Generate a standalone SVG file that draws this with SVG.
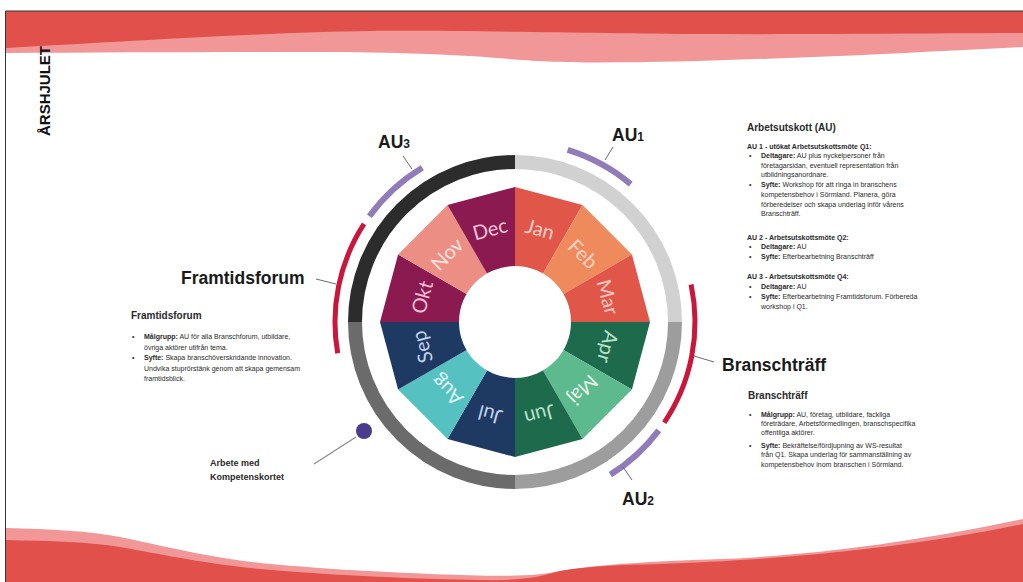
<svg xmlns="http://www.w3.org/2000/svg" width="1023" height="582" viewBox="0 0 1023 582">
<style>
.t{font-family:"Liberation Sans",Arial,sans-serif;fill:#2a2a2a}
.h{font-size:10px;font-weight:bold}
.s{font-size:7px}
.b{font-weight:bold}
.big{font-family:"Liberation Sans",Arial,sans-serif;font-size:17.5px;font-weight:bold;fill:#1a1a1a}
.m{font-family:Lato,"Open Sans",sans-serif;font-size:20px;text-anchor:middle;dominant-baseline:central}
.tick{stroke:#6a6a6a;stroke-width:1;fill:none}
.pu{stroke:#8f7cb8;stroke-width:6;fill:none}
.rd{stroke:#c8173a;stroke-width:5;fill:none}
.ring{stroke-width:14;fill:none}
</style>
<rect width="1023" height="582" fill="#ffffff"/>
<g id="background">
<path d="M6,11 H1023 V47 C940,51 870,55 800,57.5 C720,60.5 660,62.5 600,62.5 C550,62.5 520,60 490,57.5 C450,54 380,52 300,52 C200,52 100,52.5 6,53 Z" fill="#f19797"/>
<path d="M6,11 H1023 V33 C900,33.5 800,34.5 700,34 C600,33.5 450,30 370,31 C280,32 150,40 6,48 Z" fill="#e1504a"/>
<path d="M6,528 C50,529 90,531 120,537 C160,545 200,556 260,563 C330,570 420,574 480,575.5 C520,576.5 540,575 560,571 C600,564 660,561 720,559 C800,556 900,545 1023,519 V582 H6 Z" fill="#f19797"/>
<path d="M6,540 C50,541 90,542 120,547 C160,554 200,563 260,569 C340,576 420,579 480,580 C520,581 540,577 560,571 C590,566 620,565 660,564 C760,561 900,550 1023,524 V582 H6 Z" fill="#e1504a"/>
<path d="M5.5,582 V11 H1023" stroke="#333" stroke-width="1" fill="none"/>
<text transform="translate(50,136) rotate(-90)" font-family="'Liberation Sans',Arial,sans-serif" font-size="15" font-weight="bold" fill="#111">ÅRSHJULET</text>
</g>
<g id="ring">
<path class="ring" stroke="#d1d1d1" d="M515,162 A160,160 0 0 1 675,322"/>
<path class="ring" stroke="#9d9d9d" d="M675,322 A160,160 0 0 1 515,482"/>
<path class="ring" stroke="#6b6b6b" d="M515,482 A160,160 0 0 1 355,322"/>
<path class="ring" stroke="#2c2c2c" d="M355,322 A160,160 0 0 1 515,162"/>
</g>
<g id="months">
<polygon points="515,322 515,187 582.5,205.09" fill="#e0574a"/>
<polygon points="515,322 582.5,205.09 631.91,254.5" fill="#ef8a5c"/>
<polygon points="515,322 631.91,254.5 650,322" fill="#e0574a"/>
<polygon points="515,322 650,322 631.91,389.5" fill="#1e6a4c"/>
<polygon points="515,322 631.91,389.5 582.5,438.91" fill="#5db98e"/>
<polygon points="515,322 582.5,438.91 515,457" fill="#1e6a4c"/>
<polygon points="515,322 515,457 447.5,438.91" fill="#1f3a62"/>
<polygon points="515,322 447.5,438.91 398.09,389.5" fill="#56c1c1"/>
<polygon points="515,322 398.09,389.5 380,322" fill="#1f3a62"/>
<polygon points="515,322 380,322 398.09,254.5" fill="#8a1a50"/>
<polygon points="515,322 398.09,254.5 447.5,205.09" fill="#ec8e84"/>
<polygon points="515,322 447.5,205.09 515,187" fill="#8a1a50"/>
<circle cx="515" cy="322" r="56" fill="#ffffff"/>
<text class="m" x="515" y="225" transform="rotate(15 515 322)" fill="#f8cdc6">Jan</text>
<text class="m" x="515" y="225" transform="rotate(45 515 322)" fill="#f9d3c2">Feb</text>
<text class="m" x="515" y="225" transform="rotate(75 515 322)" fill="#f6c6be">Mar</text>
<text class="m" x="515" y="225" transform="rotate(105 515 322)" fill="#b9e2cb">Apr</text>
<text class="m" x="515" y="225" transform="rotate(135 515 322)" fill="#e3f4ea">Maj</text>
<text class="m" x="515" y="225" transform="rotate(165 515 322)" fill="#b9e2cb">Jun</text>
<text class="m" x="515" y="225" transform="rotate(195 515 322)" fill="#c0d2ec">Jul</text>
<text class="m" x="515" y="225" transform="rotate(225 515 322)" fill="#e2f6f6">Aug</text>
<text class="m" x="515" y="225" transform="rotate(255 515 322)" fill="#c0d2ec">Sep</text>
<text class="m" x="515" y="225" transform="rotate(285 515 322)" fill="#f1bcd4">Okt</text>
<text class="m" x="515" y="225" transform="rotate(315 515 322)" fill="#fde3de">Nov</text>
<text class="m" x="515" y="225" transform="rotate(345 515 322)" fill="#f2c3d9">Dec</text>
</g>
<g id="au1">
<path class="pu" d="M567.63,149.87 A180,180 0 0 1 630.7,184.11"/>
<text class="big" x="612" y="141" font-size="18">AU<tspan font-size="12">1</tspan></text>
</g>
<g id="au3">
<path class="pu" d="M369.38,216.2 A180,180 0 0 1 422.29,167.71"/>
<text class="big" x="378" y="148" font-size="18">AU<tspan font-size="12">3</tspan></text>
</g>
<g id="au2">
<path class="pu" d="M658.75,430.33 A180,180 0 0 1 610.38,474.65"/>
<text class="big" x="622" y="505" font-size="18">AU<tspan font-size="12">2</tspan></text>
</g>
<g id="branschtraff">
<path class="rd" d="M691.07,284.58 A180,180 0 0 1 664.23,422.65"/>
<text class="big" x="722" y="371">Branschträff</text>
</g>
<g id="framtidsforum">
<path class="rd" d="M337.73,353.26 A180,180 0 0 1 364.04,223.97"/>
<text class="big" x="181" y="284">Framtidsforum</text>
</g>
<g id="kompetenskortet">
<circle cx="364" cy="431" r="8" fill="#4b3b8c"/>
<text class="t b" font-size="9" x="210" y="466">Arbete med</text>
<text class="t b" font-size="9" x="210" y="480">Kompetenskortet</text>
</g>
<g id="connectors">
<line class="tick" x1="605" y1="160" x2="613" y2="147"/>
<line class="tick" x1="412" y1="169" x2="403" y2="156"/>
<line class="tick" x1="623" y1="467" x2="632" y2="480"/>
<line class="tick" x1="694" y1="356" x2="714" y2="362"/>
<line class="tick" x1="336" y1="284" x2="316" y2="279"/>
<line x1="356" y1="437" x2="314" y2="464" stroke="#8a8a8a" stroke-width="1.2"/>
</g>
<g id="text-au">
<text class="t h" x="747" y="131">Arbetsutskott (AU)</text>
<text class="t s b" x="747" y="148.5">AU 1 - utökat Arbetsutskottsmöte Q1:</text>
<text class="t s" x="749" y="158.3">•</text>
<text class="t s" x="761" y="158.3"><tspan class="b">Deltagare:</tspan> AU plus nyckelpersoner från</text>
<text class="t s" x="761" y="167.6">företagarsidan, eventuell representation från</text>
<text class="t s" x="761" y="177">utbildningsanordnare.</text>
<text class="t s" x="749" y="187.3">•</text>
<text class="t s" x="761" y="187.3"><tspan class="b">Syfte:</tspan> Workshop för att ringa in branschens</text>
<text class="t s" x="761" y="197.3">kompetensbehov i Sörmland. Planera, göra</text>
<text class="t s" x="761" y="206.7">förberedelser och skapa underlag inför vårens</text>
<text class="t s" x="761" y="216">Branschträff.</text>
<text class="t s b" x="747" y="240">AU 2 - Arbetsutskottsmöte Q2:</text>
<text class="t s" x="749" y="249.3">•</text>
<text class="t s" x="761" y="249.3"><tspan class="b">Deltagare:</tspan> AU</text>
<text class="t s" x="749" y="259.3">•</text>
<text class="t s" x="761" y="259.3"><tspan class="b">Syfte:</tspan> Efterbearbetning Branschträff</text>
<text class="t s b" x="747" y="279.3">AU 3 - Arbetsutskottsmöte Q4:</text>
<text class="t s" x="749" y="289">•</text>
<text class="t s" x="761" y="289"><tspan class="b">Deltagare:</tspan> AU</text>
<text class="t s" x="749" y="299">•</text>
<text class="t s" x="761" y="299"><tspan class="b">Syfte:</tspan> Efterbearbetning Framtidsforum. Förbereda</text>
<text class="t s" x="761" y="309">workshop i Q1.</text>
</g>
<g id="text-branschtraff">
<text class="t h" x="748" y="399">Branschträff</text>
<text class="t s" x="749" y="416.7">•</text>
<text class="t s" x="761" y="416.7"><tspan class="b">Målgrupp:</tspan> AU, företag, utbildare, fackliga</text>
<text class="t s" x="761" y="425.7">företrädare, Arbetsförmedlingen, branschspecifika</text>
<text class="t s" x="761" y="434.5">offentliga aktörer.</text>
<text class="t s" x="749" y="447.7">•</text>
<text class="t s" x="761" y="447.7"><tspan class="b">Syfte:</tspan> Bekräftelse/fördjupning av WS-resultat</text>
<text class="t s" x="761" y="456.9">från Q1. Skapa underlag för sammanställning av</text>
<text class="t s" x="761" y="466.5">kompetensbehov inom branschen i Sörmland.</text>
</g>
<g id="text-framtidsforum">
<text class="t h" x="131" y="319">Framtidsforum</text>
<text class="t s" x="132" y="339.3">•</text>
<text class="t s" x="144" y="339.3"><tspan class="b">Målgrupp:</tspan> AU för alla Branschforum, utbildare,</text>
<text class="t s" x="144" y="350">övriga aktörer utifrån tema.</text>
<text class="t s" x="132" y="360">•</text>
<text class="t s" x="144" y="360"><tspan class="b">Syfte:</tspan> Skapa branschöverskridande innovation.</text>
<text class="t s" x="144" y="370.5">Undvika stuprörstänk genom att skapa gemensam</text>
<text class="t s" x="144" y="380.5">framtidsblick.</text>
</g>
</svg>
